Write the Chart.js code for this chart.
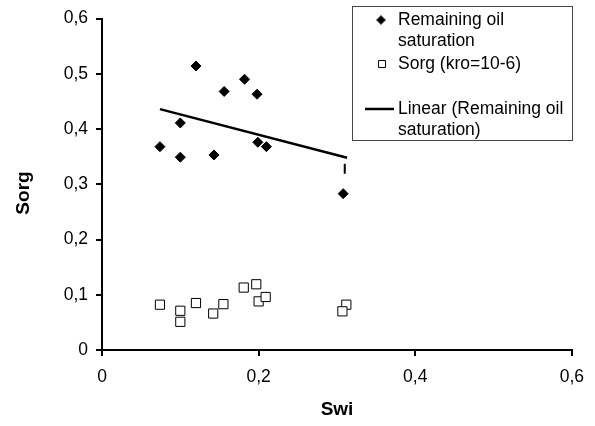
<!DOCTYPE html>
<html>
<head>
<meta charset="utf-8">
<script src="https://cdn.jsdelivr.net/npm/chart.js@4/dist/chart.umd.min.js"></script>
<style>
  body { margin: 0; background: #fff; }
  canvas { display: block; }
</style>
</head>
<body>
<canvas id="sorgChart" width="595" height="426"></canvas>
<script>
// Remaining oil saturation (diamonds)
const swiRemaining = [0.074, 0.100, 0.100, 0.120, 0.143, 0.156, 0.182, 0.198, 0.199, 0.210, 0.308];
const sorRemaining = [0.368, 0.349, 0.411, 0.514, 0.353, 0.468, 0.490, 0.463, 0.376, 0.368, 0.283];

// Sorg (kro=10-6) (open squares)
const swiSorg = [0.074, 0.100, 0.100, 0.120, 0.142, 0.155, 0.181, 0.197, 0.200, 0.209, 0.312, 0.307];
const sorgValues = [0.082, 0.071, 0.051, 0.085, 0.066, 0.083, 0.113, 0.119, 0.088, 0.096, 0.082, 0.070];

// linear trend line end points
const trendSwi = [0.074, 0.313];
const trendSorg = [0.436, 0.348];

// small vertical mark under the end of the trend line
const markSwi = [0.31];
const markSorg = [0.328];

const xTicks = [0, 0.2, 0.4, 0.6];
const yTicks = [0, 0.1, 0.2, 0.3, 0.4, 0.5, 0.6];

const legendLines = [
    ['Remaining oil', 'saturation'],
    ['Sorg (kro=10-6)'],
    ['Linear (Remaining oil', 'saturation)']
];

const FONT = '"Liberation Sans", Arial, sans-serif';

function toPoints(xs, ys) {
    return xs.map((x, i) => ({ x: x, y: ys[i] }));
}

function commaNum(v) {
    if (v === 0) return '0';
    return v.toFixed(1).replace('.', ',');
}

/**
 * draw the axis titles and the boxed legend by hand
 */
const extrasPlugin = {
    id: 'extras',
    afterDraw(chart) {
        const ctx = chart.ctx;
        const ds = chart.data.datasets;
        ctx.save();

        // axis titles
        ctx.fillStyle = '#000';
        ctx.font = 'bold 19px ' + FONT;
        ctx.textAlign = 'center';
        ctx.textBaseline = 'middle';
        ctx.fillText('Swi', 337, 410);
        ctx.translate(24, 193);
        ctx.rotate(-Math.PI / 2);
        ctx.fillText('Sorg', 0, 0);
        ctx.setTransform(1, 0, 0, 1, 0, 0);

        // legend box
        ctx.strokeStyle = '#444';
        ctx.lineWidth = 1;
        ctx.strokeRect(352.5, 6.5, 220, 134);

        ctx.font = '17.5px ' + FONT;
        ctx.textAlign = 'left';
        ctx.fillStyle = '#000';

        // entry 1 - diamond
        Chart.helpers.drawPoint(ctx, {
            pointStyle: 'rectRot', radius: 4.5, borderWidth: 1
        }, 381, 20);
        legendLines[0].forEach((t, i) => ctx.fillText(t, 398, 20 + i * 21));

        // entry 2 - square
        ctx.fillStyle = '#fff';
        ctx.strokeStyle = '#000';
        Chart.helpers.drawPoint(ctx, {
            pointStyle: 'rect', radius: 5, borderWidth: 1
        }, 382, 64);
        ctx.fillStyle = '#000';
        legendLines[1].forEach((t, i) => ctx.fillText(t, 398, 64 + i * 21));

        // entry 3 - line
        ctx.strokeStyle = ds[2].borderColor;
        ctx.lineWidth = ds[2].borderWidth;
        ctx.beginPath();
        ctx.moveTo(365, 109);
        ctx.lineTo(394, 109);
        ctx.stroke();
        legendLines[2].forEach((t, i) => ctx.fillText(t, 398, 109 + i * 21));

        ctx.restore();
    }
};

function SorgChart() {
    const ctx = document.getElementById('sorgChart').getContext('2d');

    const chart = new Chart(ctx, {
        type: 'scatter',
        data: {
            datasets: [{
                label: 'Remaining oil saturation',
                data: toPoints(swiRemaining, sorRemaining),
                pointStyle: 'rectRot',
                pointRadius: 5,
                backgroundColor: '#000',
                borderColor: '#000',
                borderWidth: 1
            }, {
                label: 'Sorg (kro=10-6)',
                data: toPoints(swiSorg, sorgValues),
                pointStyle: 'rect',
                pointRadius: 6.5,
                backgroundColor: '#fff',
                borderColor: '#000',
                borderWidth: 1
            }, {
                label: 'Linear (Remaining oil saturation)',
                type: 'line',
                data: toPoints(trendSwi, trendSorg),
                showLine: true,
                pointRadius: 0,
                borderColor: '#000',
                borderWidth: 2.5,
                fill: false
            }, {
                label: 'mark',
                data: toPoints(markSwi, markSorg),
                pointStyle: 'line',
                rotation: 90,
                pointRadius: 5,
                borderColor: '#000',
                borderWidth: 2
            }]
        },
        options: {
            responsive: false,
            animation: false,
            layout: { padding: { top: 17, right: 23, left: 0, bottom: 0 } },
            plugins: {
                legend: { display: false },
                tooltip: { enabled: false }
            },
            scales: {
                x: {
                    type: 'linear',
                    min: 0,
                    max: 0.6,
                    afterBuildTicks: scale => { scale.ticks = xTicks.map(v => ({ value: v })); },
                    afterFit: scale => { scale.height = 76; },
                    ticks: {
                        color: '#000',
                        font: { family: FONT, size: 17.5 },
                        padding: 11,
                        maxRotation: 0,
                        callback: v => commaNum(v)
                    },
                    grid: {
                        drawOnChartArea: false,
                        drawTicks: true,
                        tickLength: 6,
                        color: '#000',
                        lineWidth: 2
                    },
                    border: { display: true, color: '#000', width: 2 }
                },
                y: {
                    type: 'linear',
                    min: 0,
                    max: 0.6,
                    afterBuildTicks: scale => { scale.ticks = yTicks.map(v => ({ value: v })); },
                    afterFit: scale => { scale.width = 102; },
                    ticks: {
                        color: '#000',
                        font: { family: FONT, size: 17.5 },
                        padding: 8,
                        callback: v => commaNum(v)
                    },
                    grid: {
                        drawOnChartArea: false,
                        drawTicks: true,
                        tickLength: 6,
                        color: '#000',
                        lineWidth: 2
                    },
                    border: { display: true, color: '#000', width: 2 }
                }
            }
        },
        plugins: [extrasPlugin]
    });
}

SorgChart();
</script>
</body>
</html>
